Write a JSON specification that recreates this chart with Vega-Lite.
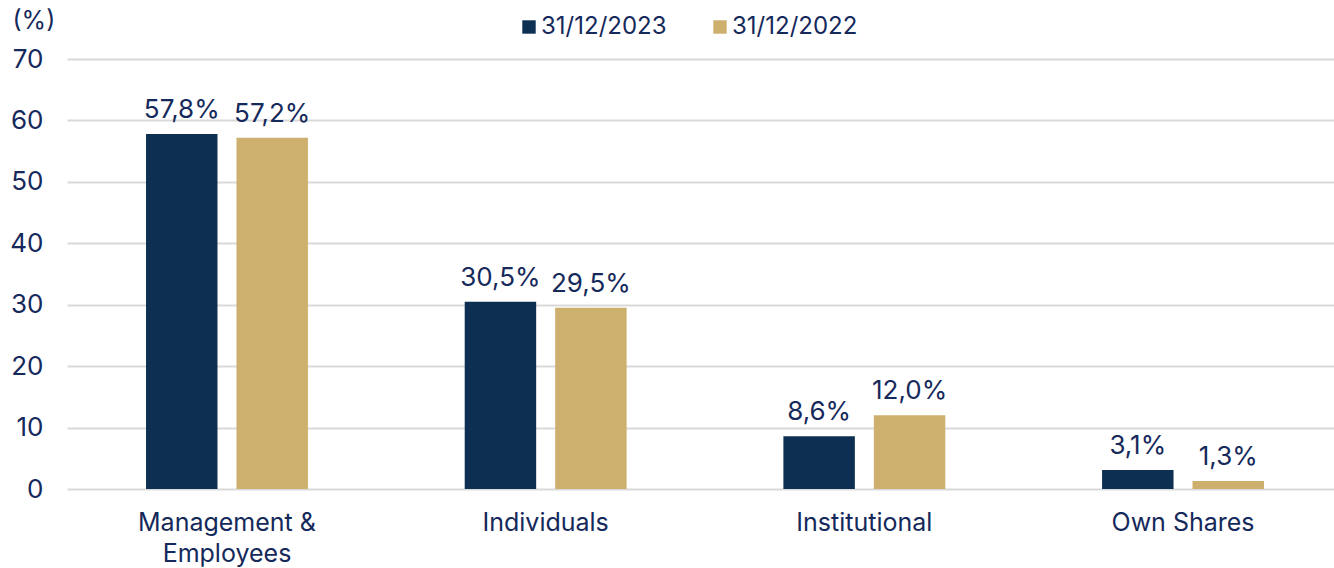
{
  "$schema": "https://vega.github.io/schema/vega-lite/v6.json",
  "autosize": "none",
  "width": 1276,
  "height": 430,
  "padding": {"left": 67, "top": 59, "right": 0, "bottom": 79},
  "background": "white",
  "config": {
    "font": "Inter",
    "view": {"stroke": null},
    "axis": {"labelFont": "Inter", "titleFont": "Inter", "labelColor": "#15295b", "titleColor": "#15295b"},
    "legend": {"labelFont": "Inter"}
  },
  "data": {
    "values": [
      {"category": "Management & Employees", "date": "31/12/2023", "value": 57.8, "label": "57,8%"},
      {"category": "Management & Employees", "date": "31/12/2022", "value": 57.2, "label": "57,2%"},
      {"category": "Individuals", "date": "31/12/2023", "value": 30.5, "label": "30,5%"},
      {"category": "Individuals", "date": "31/12/2022", "value": 29.5, "label": "29,5%"},
      {"category": "Institutional", "date": "31/12/2023", "value": 8.6, "label": "8,6%"},
      {"category": "Institutional", "date": "31/12/2022", "value": 12.0, "label": "12,0%"},
      {"category": "Own Shares", "date": "31/12/2023", "value": 3.1, "label": "3,1%"},
      {"category": "Own Shares", "date": "31/12/2022", "value": 1.3, "label": "1,3%"}
    ]
  },
  "encoding": {
    "x": {
      "field": "category", "type": "nominal", "sort": null,
      "scale": {"paddingInner": 0.492, "paddingOuter": 0.248},
      "axis": {
        "title": null, "labelAngle": 0, "domain": false, "ticks": false,
        "labelFontSize": 25, "labelPadding": 21, "labelLineHeight": 31,
        "labelExpr": "datum.label == 'Management & Employees' ? ['Management &', 'Employees'] : datum.label"
      }
    },
    "xOffset": {
      "field": "date", "type": "nominal", "sort": ["31/12/2023", "31/12/2022"],
      "scale": {"paddingInner": 0.21, "paddingOuter": 0}
    },
    "y": {
      "field": "value", "type": "quantitative",
      "scale": {"domain": [0, 70], "nice": false},
      "axis": {
        "values": [0, 10, 20, 30, 40, 50, 60, 70],
        "title": "(%)", "titleAngle": 0, "titleAlign": "left", "titleBaseline": "middle",
        "titleX": -55, "titleY": -39, "titleFontSize": 25, "titleFontWeight": "normal",
        "domain": false, "ticks": false, "labelFontSize": 26, "labelPadding": 24,
        "gridColor": "#d9d9d9", "gridWidth": 2
      }
    }
  },
  "layer": [
    {
      "mark": {"type": "bar"},
      "encoding": {
        "color": {
          "field": "date", "type": "nominal", "sort": ["31/12/2023", "31/12/2022"],
          "scale": {"domain": ["31/12/2023", "31/12/2022"], "range": ["#0d2f52", "#cdb06e"]},
          "legend": {
            "title": null, "orient": "none", "direction": "horizontal",
            "legendX": 450, "legendY": -44,
            "symbolType": "square", "symbolSize": 180, "symbolStrokeWidth": 0,
            "labelFontSize": 24, "labelColor": "#15295b", "labelOffset": 0,
            "columnPadding": 41, "symbolOffset": 0
          }
        }
      }
    },
    {
      "mark": {"type": "text", "baseline": "bottom", "dy": -11, "fontSize": 26, "color": "#15295b"},
      "encoding": {"text": {"field": "label"}}
    }
  ]
}
